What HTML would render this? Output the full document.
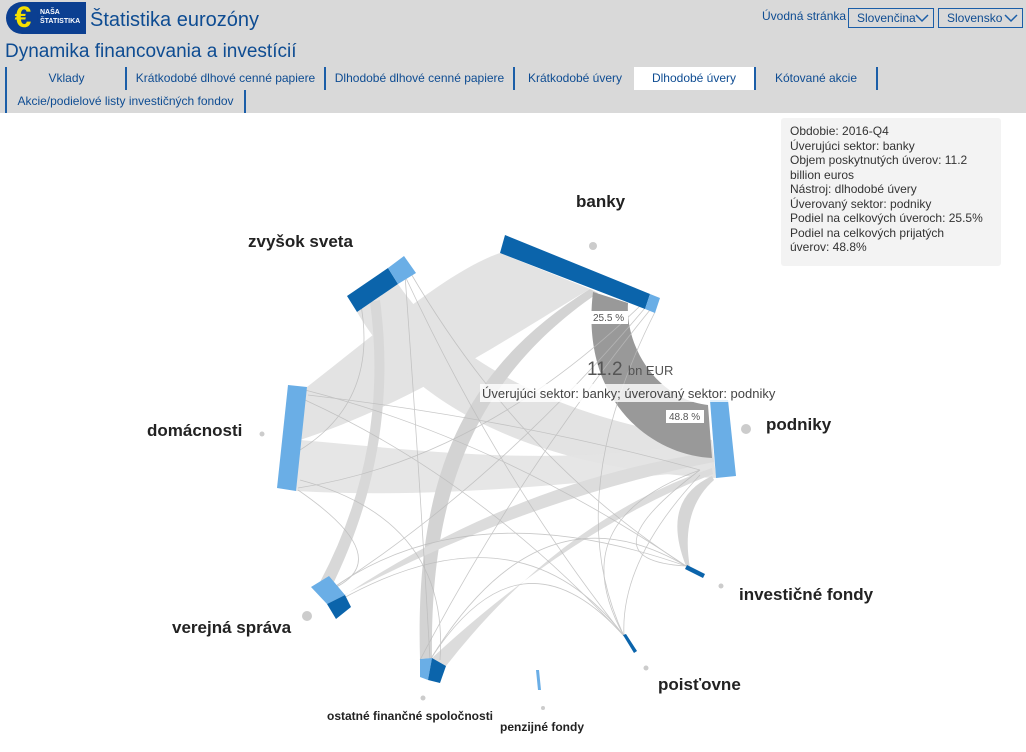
<!DOCTYPE html>
<html><head><meta charset="utf-8"><style>
body{margin:0;width:1026px;height:752px;background:#fff;font-family:"Liberation Sans",sans-serif;position:relative;overflow:hidden}
.hdr{position:absolute;left:0;top:0;width:1026px;height:113px;background:#d9d9d9}
.t{position:absolute;color:#0e4c92;white-space:nowrap}
.tab{position:absolute;height:23px;border-left:2px solid #1b5ea8;font-size:12px;color:#0e4c92;text-align:center;line-height:22px}
.sel{position:absolute;top:8px;height:18px;border:1.5px solid #1b5ea8;font-size:12px;color:#0e4c92;line-height:18px;padding-left:8px;box-sizing:content-box}
.sel svg{position:absolute;right:4px;top:5px}
.lab{position:absolute;font-weight:bold;color:#222;font-size:17px;white-space:nowrap}
.tip{position:absolute;left:781px;top:118px;width:211px;height:142px;background:#f3f3f3;border-radius:3px;font-size:12px;color:#333;line-height:14.5px;padding:6px 0 0 9px}
</style></head><body>
<div class="hdr"></div>
<div style="position:absolute;left:6px;top:2px;width:80px;height:32px;background:#0b3f91;border-radius:16px 0 0 16px"></div>
<div style="position:absolute;left:8px;top:3px;width:30px;height:30px;border-radius:50%;background:#0b3f91;color:#f5e000;font-size:30px;font-weight:bold;line-height:30px;text-align:center">€</div>
<div style="position:absolute;left:40px;top:8px;color:#fff;font-size:7px;font-weight:bold;line-height:9px">NAŠA<br>ŠTATISTIKA</div>
<div class="t" style="left:90px;top:9px;font-size:20px">Štatistika eurozóny</div>
<div class="t" style="left:5px;top:41px;font-size:19px">Dynamika financovania a investícií</div>
<div class="t" style="left:762px;top:9px;font-size:12px">Úvodná stránka</div>
<div class="sel" style="left:848px;width:76px">Slovenčina<svg width="14" height="9"><path d="M1,1 L7,7 L13,1" fill="none" stroke="#1b5ea8" stroke-width="1.5"/></svg></div>
<div class="sel" style="left:938px;width:75px">Slovensko<svg width="14" height="9"><path d="M1,1 L7,7 L13,1" fill="none" stroke="#1b5ea8" stroke-width="1.5"/></svg></div>
<div class="tab" style="left:5px;top:67px;width:119px">Vklady</div>
<div class="tab" style="left:125px;top:67px;width:197px">Krátkodobé dlhové cenné papiere</div>
<div class="tab" style="left:324px;top:67px;width:187px">Dlhodobé dlhové cenné papiere</div>
<div class="tab" style="left:513px;top:67px;width:120px">Krátkodobé úvery</div>
<div class="tab" style="left:634px;top:67px;width:120px;background:#fff;border-left:none">Dlhodobé úvery</div>
<div class="tab" style="left:754px;top:67px;width:120px;border-right:2px solid #1b5ea8">Kótované akcie</div>
<div class="tab" style="left:5px;top:90px;width:237px;border-right:2px solid #1b5ea8">Akcie/podielové listy investičných fondov</div>
<div class="tip">Obdobie: 2016-Q4<br>Úverujúci sektor: banky<br>Objem poskytnutých úverov: 11.2<br>billion euros<br>Nástroj: dlhodobé úvery<br>Úverovaný sektor: podniky<br>Podiel na celkových úveroch: 25.5%<br>Podiel na celkových prijatých<br>úverov: 48.8%</div>
<svg width="1026" height="752" style="position:absolute;left:0;top:0">
<g fill="#e3e3e3">
<path d="M307,387 C380,330 450,270 500,253 L590,289 C520,330 420,400 300,440Z"/>
<path d="M357,312 L398,284 C450,360 560,420 712,440 L716,478 C560,470 420,420 357,312Z"/>
<path d="M300,440 L296,491 C450,500 600,480 712,470 L710,440 C560,470 420,450 300,440Z" opacity=".9"/>
<path d="M590,289 L598,293 C470,380 430,500 432,658 L420,659 C415,480 460,370 590,289Z" fill="#d3d3d3"/>
<path d="M327,604 L345,595 Q520,480 712,452 L714,462 Q520,500 327,604Z" fill="#dcdcdc"/>
<path d="M432,658 L446,666 Q560,520 712,468 L713,474 Q570,530 432,658Z" fill="#dcdcdc"/>
<path d="M320,582 L330,590 Q400,450 380,300 L370,302 Q390,450 320,582Z" fill="#d8d8d8"/>
<path d="M686,566 Q660,500 712,476 L714,480 Q680,510 690,568Z" fill="#d6d6d6"/>
</g>
<path d="M593,292 C580,400 650,455 712,458 L708,405 C660,400 625,350 628,303Z" fill="#999"/>
<g fill="none" stroke="#bbb" stroke-width=".8" opacity=".8">
<path d="M410,272 Q520,460 686,566"/><path d="M405,276 Q500,480 624,636"/><path d="M305,390 Q500,440 686,566"/>
<path d="M305,400 Q480,480 624,636"/><path d="M300,480 Q450,520 440,660"/><path d="M650,310 Q520,470 420,660"/>
<path d="M645,308 Q500,480 330,590"/><path d="M655,312 Q560,500 624,636"/><path d="M700,470 Q560,520 624,636"/>
<path d="M340,600 Q520,500 624,636"/><path d="M330,590 Q470,490 686,566"/><path d="M430,660 Q540,480 686,566"/>
<path d="M430,660 Q520,520 624,636"/><path d="M298,490 Q400,560 330,590"/><path d="M360,300 Q380,400 300,450"/>
<path d="M405,275 Q420,480 430,660"/><path d="M640,306 Q480,460 298,488"/><path d="M700,475 Q620,560 624,636"/>
<path d="M700,470 Q580,560 686,566"/><path d="M308,395 Q520,420 700,470"/>
</g>
<g>
<polygon points="505,235 650,294 645,309 500,253" fill="#0b64ab"/>
<polygon points="650,294 660,298 655,313 645,309" fill="#6aaee6"/>
<polygon points="347,296 388,268 398,284 357,312" fill="#0b64ab"/>
<polygon points="388,268 404,256 416,273 398,284" fill="#6aaee6"/>
<polygon points="288,385 307,387 296,491 277,488" fill="#6aaee6"/>
<polygon points="710,400 728,400 736,476 716,478" fill="#6aaee6"/>
<polygon points="311,587 329,576 345,595 327,604" fill="#6aaee6"/>
<polygon points="327,604 345,595 351,607 336,619" fill="#0b64ab"/>
<polygon points="420,659 432,658 428,680 420,677" fill="#6aaee6"/>
<polygon points="432,658 446,666 440,683 428,680" fill="#0b64ab"/>
<polygon points="687,565 705,574 703,578 685,569" fill="#0b64ab"/>
<polygon points="623,635 626,634 637,651 634,653" fill="#0b64ab"/>
<polygon points="536,670 539,670 541,690 538,690" fill="#6aaee6"/>
</g>
<g fill="#ccc"><circle cx="593" cy="246" r="4"/><circle cx="746" cy="429" r="5"/><circle cx="262" cy="434" r="2.5"/><circle cx="307" cy="616" r="5"/><circle cx="721" cy="586" r="2.5"/><circle cx="646" cy="668" r="2.5"/><circle cx="423" cy="698" r="2.5"/><circle cx="543" cy="708" r="2"/></g>
<rect x="590" y="311" width="38" height="13" fill="#fff"/><text x="593" y="321" font-size="10" fill="#555">25.5 %</text>
<rect x="666" y="410" width="38" height="13" fill="#fff"/><text x="669" y="420" font-size="10" fill="#555">48.8 %</text>
<text x="587" y="375" font-size="19" fill="#555">11.2 <tspan font-size="13">bn EUR</tspan></text>
<rect x="480" y="384" width="296" height="18" fill="#fff" opacity=".8"/>
<text x="482" y="398" font-size="13" fill="#444">Úverujúci sektor: banky; úverovaný sektor: podniky</text>
</svg>
<div class="lab" style="left:576px;top:192px">banky</div>
<div class="lab" style="left:248px;top:232px">zvyšok sveta</div>
<div class="lab" style="left:147px;top:421px">domácnosti</div>
<div class="lab" style="left:766px;top:415px">podniky</div>
<div class="lab" style="left:739px;top:585px">investičné fondy</div>
<div class="lab" style="left:172px;top:618px">verejná správa</div>
<div class="lab" style="left:658px;top:675px">poisťovne</div>
<div class="lab" style="left:327px;top:709px;font-size:12px">ostatné finančné spoločnosti</div>
<div class="lab" style="left:500px;top:720px;font-size:12px">penzijné fondy</div>
</body></html>
